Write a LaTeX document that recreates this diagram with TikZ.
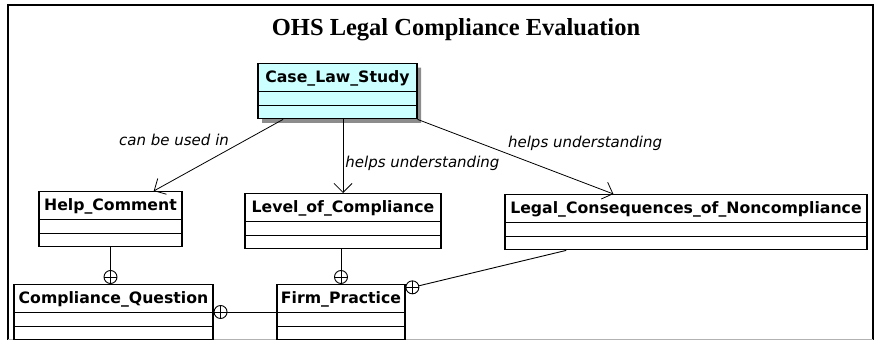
\documentclass[tikz,border=0pt]{standalone}
\usepackage{fontspec}
\setmainfont{Liberation Serif}
\newfontfamily\umlfont{DejaVu Sans}
\usetikzlibrary{shapes.multipart,shadows,calc,arrows.meta}
\definecolor{casecyan}{HTML}{CCFFFF}
\newcommand{\classtext}[1]{\rule[-6pt]{0pt}{21pt}#1\nodepart{two}\nodepart{three}}

\begin{document}
\begin{tikzpicture}[x=1pt,y=-1pt,
    umlclass/.style={rectangle split, rectangle split parts=3, draw, line width=1.1pt,
      anchor=north, fill=white, inner xsep=4pt, inner ysep=3pt,
      rectangle split empty part height=6.5pt, rectangle split empty part depth=0pt,
      font=\umlfont\bfseries\fontsize{15.7}{15.7}\selectfont},
    lbl/.style={font=\umlfont\itshape\fontsize{15}{15}\selectfont, inner sep=2pt},
    assoc/.style={line width=0.8pt, -{Straight Barb[length=9pt,width=18pt]}},
    link/.style={line width=0.9pt},
    nest/.style={circle, draw, fill=white, line width=0.9pt, minimum size=13pt, inner sep=0pt,
      path picture={\draw[line width=0.9pt] (path picture bounding box.north) -- (path picture bounding box.south)
        (path picture bounding box.west) -- (path picture bounding box.east);}}]
  \useasboundingbox (0,0) rectangle (875,344);
  % frame
  \draw[line width=1.2pt] (8,340) -- (8,5) -- (873,5) -- (873,340);
  \draw[line width=1pt, black!30] (8,340) -- (873,340);
  \node[font=\bfseries\fontsize{24.5}{24.5}\selectfont] (title) at (456,30) {OHS Legal Compliance Evaluation};

  % classes
  \node[umlclass, minimum width=159pt, fill=casecyan,
    drop shadow={shadow xshift=4pt, shadow yshift=-4pt, fill=black!45, opacity=1}]
    (cls) at (337.5,63) {\classtext{Case\_Law\_Study}};
  \node[umlclass, minimum width=143pt] (help) at (110.5,191) {\classtext{Help\_Comment}};
  \node[umlclass, minimum width=196pt] (lvl) at (343,193) {\classtext{Level\_of\_Compliance}};
  \node[umlclass, minimum width=362pt] (legal) at (686,194) {\classtext{Legal\_Consequences\_of\_Noncompliance}};
  \node[umlclass, minimum width=199pt] (cq) at (113.5,284) {\classtext{Compliance\_Question}};
  \node[umlclass, minimum width=128pt] (firm) at (341,284) {\classtext{Firm\_Practice}};

  % associations
  \draw[assoc] ($(cls.south west)!0.16!(cls.south east)$)
    -- node[lbl, pos=0.4, above left] {can be used in} ($(help.north west)!0.8!(help.north east)$);
  \draw[assoc] (lvl.north |- cls.south) -- node[lbl, pos=0.6, right] {helps understanding} (lvl.north);
  \draw[assoc] (cls.south east)
    -- node[lbl, pos=0.45, above right] {helps understanding} ($(legal.north west)!0.3!(legal.north east)$);

  % nesting
  \coordinate (hq) at (help.south |- cq.north);
  \draw[link] (help.south) -- (hq);
  \node[nest] (n1) at ($(hq)+(0,-7)$) {};
  \draw[link] (firm.north |- lvl.south) -- (firm.north);
  \node[nest] (n2) at ($(firm.north)+(0,-7)$) {};
  \coordinate (cqr) at ($(cq.north east)+(0,28)$);
  \draw[link] (cqr) -- (cqr -| firm.west);
  \node[nest] (n3) at ($(cqr)+(7,0)$) {};
  \coordinate (ls) at ($(legal.south west)!0.17!(legal.south east)$);
  \coordinate (fe) at ($(firm.north east)+(0,5)$);
  \draw[link] (ls) -- (fe);
  \node[nest] (n4) at ($(fe)!7pt!(ls)$) {};
\end{tikzpicture}
\end{document}
